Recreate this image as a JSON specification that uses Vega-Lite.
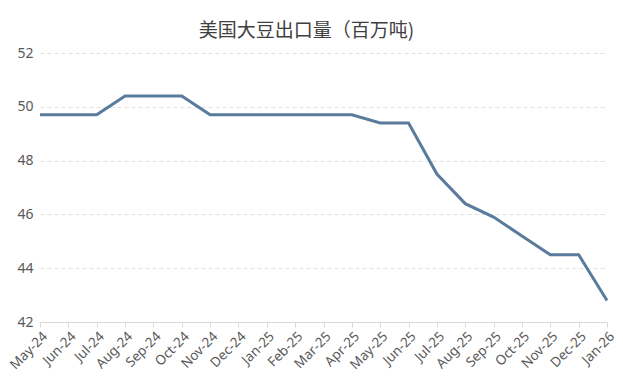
{
  "$schema": "https://vega.github.io/schema/vega-lite/v6.json",
  "width": 567,
  "height": 269,
  "autosize": {"type": "none"},
  "padding": {"left": 40, "top": 53, "right": 16, "bottom": 65},
  "background": "white",
  "title": {
    "text": "美国大豆出口量（百万吨)",
    "font": "Noto Sans CJK SC",
    "fontSize": 19,
    "fontWeight": "normal",
    "color": "#404040",
    "anchor": "middle",
    "dx": -17,
    "dy": 5,
    "offset": 10
  },
  "data": {
    "values": [
      {"month": "May-24", "value": 49.7},
      {"month": "Jun-24", "value": 49.7},
      {"month": "Jul-24", "value": 49.7},
      {"month": "Aug-24", "value": 50.4},
      {"month": "Sep-24", "value": 50.4},
      {"month": "Oct-24", "value": 50.4},
      {"month": "Nov-24", "value": 49.7},
      {"month": "Dec-24", "value": 49.7},
      {"month": "Jan-25", "value": 49.7},
      {"month": "Feb-25", "value": 49.7},
      {"month": "Mar-25", "value": 49.7},
      {"month": "Apr-25", "value": 49.7},
      {"month": "May-25", "value": 49.4},
      {"month": "Jun-25", "value": 49.4},
      {"month": "Jul-25", "value": 47.5},
      {"month": "Aug-25", "value": 46.4},
      {"month": "Sep-25", "value": 45.9},
      {"month": "Oct-25", "value": 45.2},
      {"month": "Nov-25", "value": 44.5},
      {"month": "Dec-25", "value": 44.5},
      {"month": "Jan-26", "value": 42.8}
    ]
  },
  "mark": {"type": "line", "color": "#5a7b9c", "strokeWidth": 3, "strokeJoin": "miter"},
  "encoding": {
    "x": {
      "field": "month",
      "type": "nominal",
      "sort": null,
      "scale": {"type": "point", "padding": 0},
      "axis": {
        "title": null,
        "labelAngle": -45,
        "labelFont": "Noto Sans",
        "labelFontSize": 13.5,
        "labelColor": "#595959",
        "domainColor": "#d9d9d9",
        "tickColor": "#d9d9d9",
        "tickSize": 5,
        "labelPadding": 2,
        "grid": false
      }
    },
    "y": {
      "field": "value",
      "type": "quantitative",
      "scale": {"domain": [42, 52], "nice": false, "zero": false},
      "axis": {
        "title": null,
        "values": [42, 44, 46, 48, 50, 52],
        "labelFont": "Noto Sans",
        "labelFontSize": 14,
        "labelColor": "#595959",
        "domain": false,
        "ticks": false,
        "labelPadding": 7,
        "grid": true,
        "gridColor": "#e0e0e0",
        "gridDash": [4, 3]
      }
    }
  },
  "config": {"view": {"stroke": null}}
}
